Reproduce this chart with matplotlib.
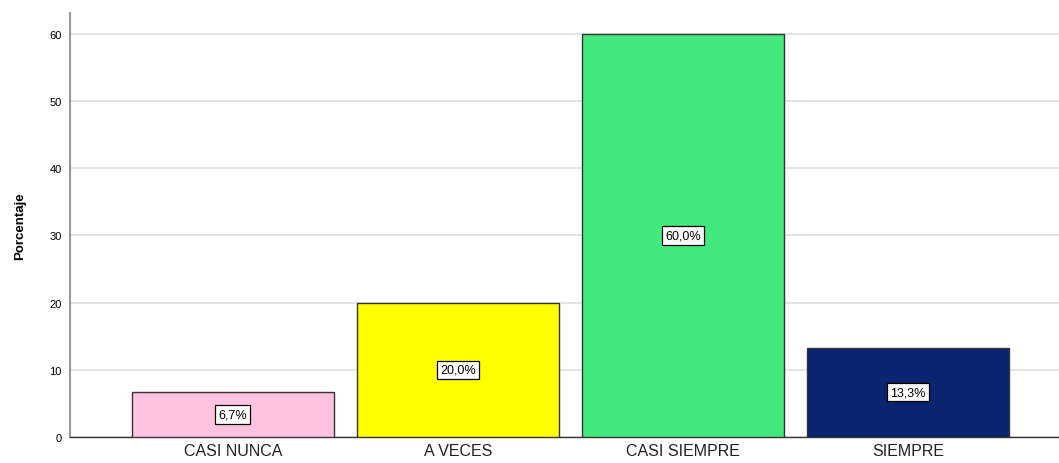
import matplotlib
matplotlib.use("Agg")
import matplotlib.pyplot as plt

plt.rcParams['font.family'] = ['Liberation Sans', 'DejaVu Sans']

categories = ['CASI NUNCA', 'A VECES', 'CASI SIEMPRE', 'SIEMPRE']
percentages = [6.7, 20.0, 60.0, 13.3]
bar_colors = ['#FFC2E0', '#FFFF00', '#42EA7D', '#0A2470']

fig = plt.figure(figsize=(10.59, 4.64), dpi=100)
ax = fig.add_axes([70 / 1059, 26 / 464, 989 / 1059, 424 / 464])

x = list(range(len(categories)))
ax.bar(x, percentages, width=0.898, color=bar_colors, edgecolor='#333333', linewidth=1.0, zorder=3)

# value labels in white boxes at mid height
for xi, v in zip(x, percentages):
    ax.text(xi, v / 2, f"{v:.1f}%".replace('.', ','), ha='center', va='center', fontsize=9,
            bbox=dict(boxstyle='square,pad=0.25', facecolor='white', edgecolor='black', linewidth=0.9),
            zorder=4)

ax.set_xlim(-0.724, 3.671)
ax.set_ylim(0, 63.1)
ax.set_yticks([0, 10, 20, 30, 40, 50, 60])
ax.set_xticks(x)
ax.set_xticklabels(categories, fontsize=11.5, color='#222222')
ax.tick_params(axis='y', labelsize=8, length=0, pad=6)
ax.tick_params(axis='x', length=0, pad=4)
ax.yaxis.grid(True, color='#dcdcdc', linewidth=1.1, zorder=0)
ax.set_axisbelow(True)

for s in ['top', 'right']:
    ax.spines[s].set_visible(False)
ax.spines['left'].set_color('#999999')
ax.spines['left'].set_linewidth(1.5)
ax.spines['bottom'].set_color('#333333')
ax.spines['bottom'].set_linewidth(1.0)

ax.set_ylabel('Porcentaje', fontsize=9.5, fontweight='bold', labelpad=17)

fig.savefig('out.png', dpi=100)
